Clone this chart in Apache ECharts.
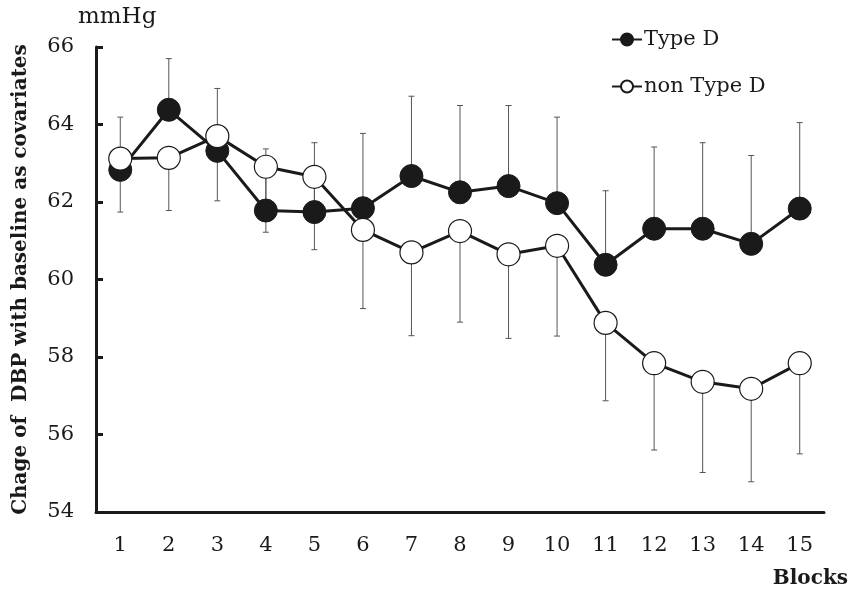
<!DOCTYPE html>
<html>
<head>
<meta charset="utf-8">
<script src="https://cdn.jsdelivr.net/npm/echarts@6/dist/echarts.min.js"></script>
<style>
  html, body { margin: 0; padding: 0; background: #fff; }
  #div_chart { width: 850px; height: 592px; }
</style>
</head>
<body>
<div id="div_chart"></div>
<script>
"use strict";

// data
const blocks = ["1", "2", "3", "4", "5", "6", "7", "8", "9", "10", "11", "12", "13", "14", "15"];
const type_d = [62.83, 64.38, 63.32, 61.78, 61.74, 61.84, 62.67, 62.25, 62.41, 61.97, 60.38, 61.31, 61.31, 60.92, 61.83];
const non_type_d = [63.12, 63.14, 63.70, 62.91, 62.65, 61.28, 60.70, 61.25, 60.65, 60.87, 58.88, 57.84, 57.36, 57.18, 57.84];
// error bar ends: Type D upwards, non Type D downwards
const type_d_upper = [64.19, 65.70, 64.93, 63.37, 63.53, 63.77, 64.73, 64.49, 64.49, 64.19, 62.29, 63.42, 63.53, 63.20, 64.05];
const non_type_d_lower = [61.74, 61.78, 62.03, 61.22, 60.77, 59.25, 58.55, 58.90, 58.48, 58.54, 56.87, 55.60, 55.02, 54.78, 55.50];

const y_ticks_min = 54;
const y_ticks_max = 66;
const y_ticks_step = 2;

const ink = "#1a1a1a";
const font = "DejaVu Serif";

// [index, value, end] rows for the error bar series
function err_rows(values, ends) {
  return values.map(function (v, i) { return [i, v, ends[i]]; });
}

function render_err(params, api) {
  const p0 = api.coord([api.value(0), api.value(1)]);
  const p1 = api.coord([api.value(0), api.value(2)]);
  const cap = 3;
  const style = { stroke: "#555", lineWidth: 1 };
  return {
    type: "group",
    children: [
      { type: "line", shape: { x1: p0[0], y1: p0[1], x2: p1[0], y2: p1[1] }, style: style },
      { type: "line", shape: { x1: p1[0] - cap, y1: p1[1], x2: p1[0] + cap, y2: p1[1] }, style: style },
    ],
  };
}

const chart = echarts.init(document.getElementById("div_chart"));
chart.setOption({
  animation: false,
  textStyle: { fontFamily: font, color: ink },
  grid: { left: 96, right: 26, top: 47, bottom: 80, containLabel: false, outerBoundsMode: "none" },
  legend: {
    orient: "vertical",
    left: 606,
    top: 24,
    itemGap: 26,
    itemWidth: 30,
    itemHeight: 15,
    textStyle: { fontFamily: font, fontSize: 21, color: ink, padding: [0, 0, 0, -3] },
    data: ["Type D", "non Type D"],
  },
  xAxis: {
    type: "category",
    data: blocks,
    boundaryGap: true,
    name: "Blocks",
    nameLocation: "end",
    nameGap: 0,
    nameTextStyle: {
      fontFamily: font, fontSize: 20, fontWeight: "bold", color: ink,
      align: "right", verticalAlign: "top", padding: [57, -24, 0, 0],
    },
    axisLine: { lineStyle: { color: ink, width: 3 } },
    axisTick: { inside: true, length: 6, interval: 0, lineStyle: { color: ink, width: 3 } },
    axisLabel: { margin: 23, fontSize: 21, color: ink, fontFamily: font, interval: 0 },
    splitLine: { show: false },
  },
  yAxis: {
    type: "value",
    min: y_ticks_min,
    max: y_ticks_max,
    interval: y_ticks_step,
    name: "Chage of  DBP with baseline as covariates",
    nameLocation: "middle",
    nameGap: 65,
    nameTextStyle: { fontFamily: font, fontSize: 20, fontWeight: "bold", color: ink },
    axisLine: { show: true, lineStyle: { color: ink, width: 3 } },
    axisTick: { show: true, inside: true, length: 7, lineStyle: { color: ink, width: 3 } },
    axisLabel: { margin: 22, fontSize: 21, color: ink, fontFamily: font },
    splitLine: { show: false },
  },
  graphic: [
    { type: "text", left: 78, top: 6, style: { text: "mmHg", font: "23px " + font, fill: ink } },
  ],
  series: [
    {
      type: "custom",
      name: "err_d",
      renderItem: render_err,
      data: err_rows(type_d, type_d_upper),
      encode: { x: 0, y: [1, 2] },
      z: 1,
      silent: true,
    },
    {
      type: "custom",
      name: "err_nd",
      renderItem: render_err,
      data: err_rows(non_type_d, non_type_d_lower),
      encode: { x: 0, y: [1, 2] },
      z: 1,
      silent: true,
    },
    {
      type: "line",
      name: "Type D",
      data: type_d,
      symbol: "circle",
      symbolSize: 23,
      lineStyle: { color: ink, width: 3 },
      itemStyle: { color: ink, borderColor: ink, borderWidth: 1 },
      z: 3,
    },
    {
      type: "line",
      name: "non Type D",
      data: non_type_d,
      symbol: "circle",
      symbolSize: 23,
      lineStyle: { color: ink, width: 3 },
      itemStyle: { color: "#fff", borderColor: ink, borderWidth: 1.2 },
      z: 4,
    },
  ],
});
</script>
</body>
</html>
